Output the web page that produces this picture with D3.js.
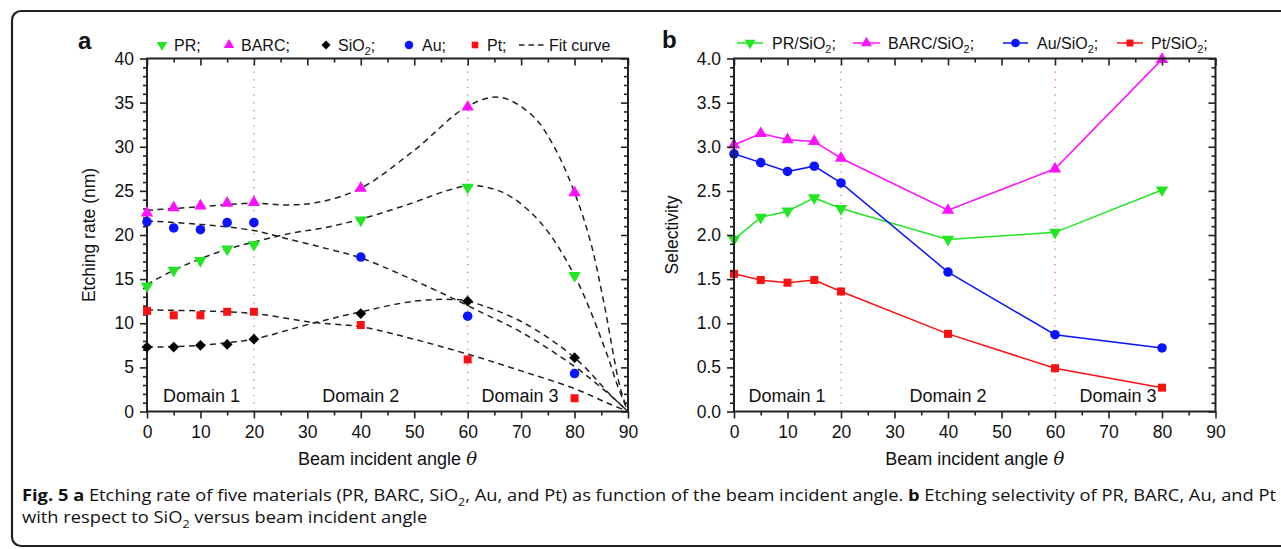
<!DOCTYPE html>
<html><head><meta charset="utf-8">
<script src="https://cdn.jsdelivr.net/npm/d3@7"></script>
<style>
body{margin:0;background:#fff}
svg{display:block}
text{font-family:"Liberation Sans",Arial,Helvetica,sans-serif;fill:#111}
</style>
</head><body><svg id="c" width="1281" height="549"></svg>
<script>
// ---------- data ----------
const angles = [0, 5, 10, 15, 20, 40, 60, 80];
const rateTicksY = [0, 5, 10, 15, 20, 25, 30, 35, 40];
const selTicksY = [0, 0.5, 1.0, 1.5, 2.0, 2.5, 3.0, 3.5, 4.0];
const angleTicks = [0, 10, 20, 30, 40, 50, 60, 70, 80, 90];
const domainBounds = [20, 60];
const domainLabels = ["Domain 1", "Domain 2", "Domain 3"];
const domainCenters = [10.2, 40.0, 69.8];
const domainCentersB = [9.9, 40.0, 71.8];

// panel a: etching rate (nm)
const ratePR   = [14.2, 16.0, 17.1, 18.4, 18.9, 21.7, 25.4, 15.4];
const rateBARC = [22.5, 23.1, 23.3, 23.6, 23.7, 25.3, 34.5, 24.8];
const rateSiO2 = [7.3, 7.3, 7.5, 7.6, 8.2, 11.1, 12.5, 6.1];
const rateAu   = [21.5, 20.8, 20.6, 21.4, 21.4, 17.5, 10.8, 4.3];
const ratePt   = [11.4, 10.9, 10.9, 11.3, 11.3, 9.8, 5.9, 1.5];

// fit curves
const fitBARC = [[0,22.8],[10,23.2],[20,23.6],[26,23.4],[32,23.7],[40,25.3],[50,29.6],[60,34.6],[66,35.6],[72,33.6],[76,30.2],[80,24.8],[83,19.2],[85.5,12.3],[88.5,2.8],[90,0]];
const fitPR   = [[0,14.4],[5,16.0],[10,17.3],[15,18.4],[20,19.2],[27,20.2],[33,20.8],[40,21.8],[50,23.7],[56,25.0],[61,25.6],[67,24.7],[73.5,21.5],[80,15.4],[86,6.6],[88,3.0],[90,0]];
const fitAu   = [[0,21.6],[10,21.2],[20,20.5],[26,19.6],[34,18.4],[40,17.4],[48,15.4],[58,12.6],[62,11.4],[70,9.0],[80,5.1],[86,2.2],[90,0]];
const fitSiO2 = [[0,7.3],[5,7.35],[10,7.5],[15,7.8],[20,8.2],[31,10.0],[40,11.3],[50,12.5],[57,12.7],[60,12.5],[70,10.2],[80,6.1],[87,1.7],[90,0]];
const fitPt   = [[0,11.5],[10,11.4],[20,11.1],[31,10.1],[40,9.6],[48,8.5],[60,6.5],[70,4.6],[80,2.6],[86,1.0],[90,0]];

// panel b: selectivity vs SiO2
const selPR   = [1.95, 2.20, 2.27, 2.42, 2.30, 1.95, 2.03, 2.51];
const selBARC = [3.02, 3.15, 3.08, 3.06, 2.87, 2.28, 2.75, 3.99];
const selAu   = [2.92, 2.82, 2.72, 2.78, 2.59, 1.58, 0.87, 0.72];
const selPt   = [1.56, 1.49, 1.46, 1.49, 1.36, 0.88, 0.49, 0.27];

const legendA = ["PR;", "BARC;", "SiO2;", "Au;", "Pt;", "Fit curve"];
const legendB = ["PR/SiO2;", "BARC/SiO2;", "Au/SiO2;", "Pt/SiO2;"];

// ---------- styles ----------
const GREEN = "#22e622", MAGENTA = "#ff10ff", BLUE = "#0a14ff", RED = "#ff1010", BLACK = "#000";
const AX = "#222";

const svg = d3.select("#c");

// outer frame
svg.append("rect").attr("x", 12).attr("y", 11).attr("width", 1300).attr("height", 535)
  .attr("rx", 9).attr("fill", "none").attr("stroke", "#222").attr("stroke-width", 2.2);

function sym(type, size, rot) {
  return { path: d3.symbol().type(type).size(size)(), rot: rot || 0 };
}
const M = {
  down: (s) => sym(d3.symbolTriangle, s, 180),
  up: (s) => sym(d3.symbolTriangle, s, 0),
  diamond: (s) => sym(d3.symbolSquare, s, 45),
  circle: (s) => sym(d3.symbolCircle, s, 0),
  square: (s) => sym(d3.symbolSquare, s, 0)
};

function drawMarker(g, cx, cy, m, color) {
  g.append("path").attr("d", m.path)
    .attr("transform", `translate(${cx},${cy}) rotate(${m.rot})`)
    .attr("fill", color).attr("stroke", "none");
}

function drawAxes(g, x, y, yTicks, yMinorStep, yFmt) {
  const [xa, xb] = x.range(), [ya, yb] = y.range();
  const xMinor = d3.range(0, 91, 5).filter(v => v % 10 !== 0);
  const yMax = y.domain()[1];
  const yMinor = d3.range(0, Math.round(yMax / yMinorStep) + 1).map(i => +(i * yMinorStep).toFixed(3))
    .filter(v => !yTicks.some(t => Math.abs(t - v) < 1e-6));
  const style = (sel) => {
    sel.select(".domain").remove();
    sel.selectAll("line").attr("stroke", AX).attr("stroke-width", 1.6);
    sel.selectAll("text").attr("font-size", 17.5).attr("fill", "#111")
      .attr("font-family", '"Liberation Sans",Arial,sans-serif');
  };
  g.append("g").attr("transform", `translate(0,${ya})`)
    .call(d3.axisBottom(x).tickValues(angleTicks).tickSize(7).tickPadding(7).tickFormat(d3.format("d"))).call(style);
  g.append("g").attr("transform", `translate(0,${ya})`)
    .call(d3.axisBottom(x).tickValues(xMinor).tickSize(4).tickFormat("")).call(style);
  g.append("g").attr("transform", `translate(0,${yb})`)
    .call(d3.axisTop(x).tickValues(angleTicks).tickSize(-7).tickFormat("")).call(style);
  g.append("g").attr("transform", `translate(0,${yb})`)
    .call(d3.axisTop(x).tickValues(xMinor).tickSize(-4).tickFormat("")).call(style);
  g.append("g").attr("transform", `translate(${xa},0)`)
    .call(d3.axisLeft(y).tickValues(yTicks).tickSize(7).tickPadding(6).tickFormat(yFmt)).call(style);
  g.append("g").attr("transform", `translate(${xa},0)`)
    .call(d3.axisLeft(y).tickValues(yMinor).tickSize(4).tickFormat("")).call(style);
  g.append("g").attr("transform", `translate(${xb},0)`)
    .call(d3.axisRight(y).tickValues(yTicks).tickSize(-7).tickFormat("")).call(style);
  g.append("g").attr("transform", `translate(${xb},0)`)
    .call(d3.axisRight(y).tickValues(yMinor).tickSize(-4).tickFormat("")).call(style);
  g.append("rect").attr("x", xa).attr("y", yb).attr("width", xb - xa).attr("height", ya - yb)
    .attr("fill", "none").attr("stroke", AX).attr("stroke-width", 2);
}

function domainLines(g, x, y) {
  domainBounds.forEach(b => {
    g.append("line").attr("x1", x(b)).attr("x2", x(b)).attr("y1", y.range()[0]).attr("y2", y.range()[1])
      .attr("stroke", "#f06060").attr("stroke-width", 1.2).attr("stroke-dasharray", "1.2,6.5");
  });
}

function domainText(g, x, centers) {
  domainLabels.forEach((t, i) => {
    g.append("text").attr("x", x(centers[i])).attr("y", 401.5).attr("text-anchor", "middle")
      .attr("font-size", 18).text(t);
  });
}

function textWithSub(sel, str, fs) {
  // renders "SiO2" with subscript 2; next tspan restores the baseline
  const shift = fs * 0.3;
  const parts = str.split("SiO2");
  let pending = 0;
  parts.forEach((p, i) => {
    if (p) { sel.append("tspan").attr("dy", pending).text(p); pending = 0; }
    if (i < parts.length - 1) {
      sel.append("tspan").attr("dy", pending).text("SiO");
      sel.append("tspan").attr("font-size", fs * 0.68).attr("dy", shift).text("2");
      pending = -shift;
    }
  });
  return pending;
}

// ---------- Panel a ----------
{
  const x = d3.scaleLinear().domain([0, 90]).range([147, 628]);
  const y = d3.scaleLinear().domain([0, 40]).range([411.5, 58.5]);
  const g = svg.append("g");
  domainLines(g, x, y);
  const line = d3.line().x(d => x(d[0])).y(d => y(d[1])).curve(d3.curveCatmullRom.alpha(0.5));
  [fitBARC, fitPR, fitAu, fitSiO2, fitPt].forEach(f => {
    g.append("path").attr("d", line(f)).attr("fill", "none").attr("stroke", "#222")
      .attr("stroke-width", 1.5).attr("stroke-dasharray", "6,4.5");
  });
  domainText(g, x, domainCenters);
  drawAxes(g, x, y, rateTicksY, 1, d3.format("d"));
  const series = [
    [ratePR, M.down(66), GREEN], [rateBARC, M.up(66), MAGENTA], [rateSiO2, M.diamond(58), BLACK],
    [rateAu, M.circle(72), BLUE], [ratePt, M.square(64), RED]
  ];
  series.forEach(([vals, m, c]) => vals.forEach((v, i) => drawMarker(g, x(angles[i]), y(v), m, c)));

  g.append("text").attr("transform", `translate(95,${y(20)}) rotate(-90)`).attr("text-anchor", "middle")
    .attr("font-size", 17.5).text("Etching rate (nm)");
  const xt = g.append("text").attr("x", x(45)).attr("y", 465).attr("text-anchor", "middle").attr("font-size", 18);
  xt.append("tspan").text("Beam incident angle ");
  xt.append("tspan").attr("font-style", "italic").attr("font-family", '"DejaVu Serif",serif').text("θ");
  g.append("text").attr("x", 78).attr("y", 49).attr("font-size", 24).attr("font-weight", "bold").text("a");

  const ly = 45;
  const lm = [M.down(48), M.up(48), M.diamond(42), M.circle(56), M.square(44)];
  const lc = [GREEN, MAGENTA, BLACK, BLUE, RED];
  const mx = [162, 229, 326, 409, 475];
  const tx = [174, 241, 338, 422, 487];
  legendA.slice(0, 5).forEach((t, i) => {
    drawMarker(g, mx[i], ly, lm[i], lc[i]);
    const tt = g.append("text").attr("x", tx[i]).attr("y", ly + 5.5).attr("font-size", 16);
    textWithSub(tt, t, 16);
  });
  g.append("line").attr("x1", 519).attr("x2", 544).attr("y1", ly).attr("y2", ly)
    .attr("stroke", "#222").attr("stroke-width", 1.5).attr("stroke-dasharray", "5.5,4");
  g.append("text").attr("x", 549).attr("y", ly + 5.5).attr("font-size", 16).text(legendA[5]);
}

// ---------- Panel b ----------
{
  const x = d3.scaleLinear().domain([0, 90]).range([734, 1215.5]);
  const y = d3.scaleLinear().domain([0, 4]).range([411.5, 58.5]);
  const g = svg.append("g");
  domainLines(g, x, y);
  domainText(g, x, domainCentersB);
  const line = d3.line().x((d, i) => x(angles[i])).y(d => y(d));
  const series = [
    [selPR, M.down(66), GREEN], [selBARC, M.up(66), MAGENTA],
    [selAu, M.circle(72), BLUE], [selPt, M.square(64), RED]
  ];
  series.forEach(([vals, m, c]) => {
    g.append("path").attr("d", line(vals)).attr("fill", "none").attr("stroke", c).attr("stroke-width", 1.5);
  });
  series.forEach(([vals, m, c]) => vals.forEach((v, i) => drawMarker(g, x(angles[i]), y(v), m, c)));
  drawAxes(g, x, y, selTicksY, 0.1, d3.format(".1f"));

  g.append("text").attr("transform", `translate(678,${y(2)}) rotate(-90)`).attr("text-anchor", "middle")
    .attr("font-size", 17.5).text("Selectivity");
  const xt = g.append("text").attr("x", x(45)).attr("y", 465).attr("text-anchor", "middle").attr("font-size", 18);
  xt.append("tspan").text("Beam incident angle ");
  xt.append("tspan").attr("font-style", "italic").attr("font-family", '"DejaVu Serif",serif').text("θ");
  g.append("text").attr("x", 662).attr("y", 48).attr("font-size", 24).attr("font-weight", "bold").text("b");

  const ly = 43;
  const lx = [[737, 763], [853, 880], [1003, 1028], [1117, 1143]];
  const tx = [772, 888, 1037, 1151];
  const lm = [M.down(52), M.up(52), M.circle(60), M.square(48)];
  const lc = [GREEN, MAGENTA, BLUE, RED];
  legendB.forEach((t, i) => {
    g.append("line").attr("x1", lx[i][0]).attr("x2", lx[i][1]).attr("y1", ly).attr("y2", ly)
      .attr("stroke", lc[i]).attr("stroke-width", 1.5);
    drawMarker(g, (lx[i][0] + lx[i][1]) / 2, ly, lm[i], lc[i]);
    const tt = g.append("text").attr("x", tx[i]).attr("y", ly + 5.5).attr("font-size", 16);
    textWithSub(tt, t, 16);
  });
}

// ---------- Caption ----------
{
  const FS = 15.5;
  const cap = svg.append("g");
  const mk = (y) => cap.append("text").attr("x", 22).attr("y", y).attr("font-size", FS)
    .style("font-family", '"Open Sans",sans-serif');
  const l1 = mk(501);
  l1.append("tspan").attr("font-weight", "bold").text("Fig. 5 a");
  l1.append("tspan").text(" Etching rate of five materials (PR, BARC, ");
  let p = textWithSub(l1, "SiO2", FS);
  l1.append("tspan").attr("dy", p).text(", Au, and Pt) as function of the beam incident angle. ");
  l1.append("tspan").attr("font-weight", "bold").text("b");
  l1.append("tspan").text(" Etching selectivity of PR, BARC, Au, and Pt");
  const l2 = mk(523);
  l2.append("tspan").text("with respect to ");
  p = textWithSub(l2, "SiO2", FS);
  l2.append("tspan").attr("dy", p).text(" versus beam incident angle");
  const target = 1254;
  const w = l1.node().getComputedTextLength();
  const k = target / w;
  l1.attr("textLength", target).attr("lengthAdjust", "spacingAndGlyphs");
  const w2 = l2.node().getComputedTextLength();
  l2.attr("textLength", w2 * k).attr("lengthAdjust", "spacingAndGlyphs");
}
</script>
</body></html>
